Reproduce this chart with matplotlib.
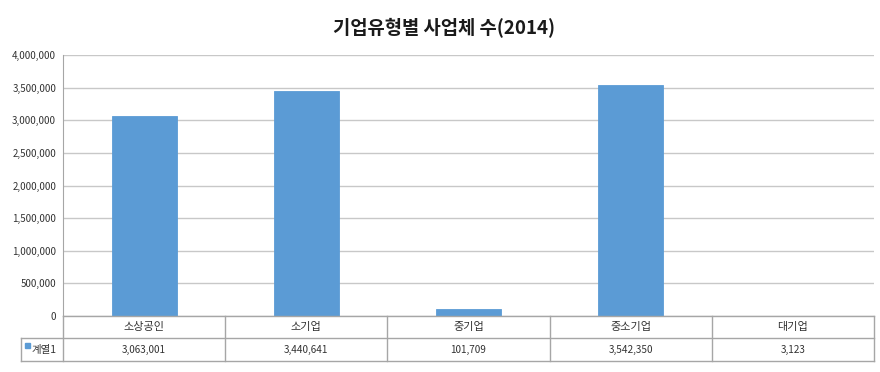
import numpy as np
import matplotlib.pyplot as plt
from matplotlib.ticker import FuncFormatter

plt.rcParams['font.family'] = ['Noto Sans CJK KR', 'DejaVu Sans']

# 데이터
categories = ['소상공인', '소기업', '중기업', '중소기업', '대기업']
values = [3063001, 3440641, 101709, 3542350, 3123]
series_name = '계열1'
title = '기업유형별 사업체 수(2014)'

bar_color = '#5B9BD5'
grid_color = '#c8c8c8'
line_color = '#a6a6a6'
text_color = '#333333'

W, H = 880, 372
fig = plt.figure(figsize=(W / 100, H / 100), dpi=100)

# 플롯 영역 (픽셀 기준)
x0, x1 = 63, 874
y_top, y_zero = 55, 316
ax = fig.add_axes([x0 / W, 1 - y_zero / H, (x1 - x0) / W, (y_zero - y_top) / H])

x = np.arange(len(categories))
ax.bar(x, values, width=0.4, color=bar_color, edgecolor=bar_color, linewidth=0.6, zorder=3)
ax.set_xlim(-0.5, len(categories) - 0.5)
ax.set_ylim(0, 4000000)
ax.set_yticks(np.arange(0, 4000001, 500000))
ax.yaxis.set_major_formatter(FuncFormatter(lambda v, p: f'{int(v):,}'))
ax.tick_params(axis='y', labelsize=7, length=0, pad=5, colors=text_color)
ax.set_xticks([])
ax.grid(axis='y', color=grid_color, linewidth=1, zorder=0)
ax.axhline(4000000, color='#999999', linewidth=1.2, zorder=1)
for s in ['top', 'right', 'bottom']:
    ax.spines[s].set_visible(False)
ax.spines['left'].set_color(line_color)

fig.text(0.505, 1 - 28 / H, title, ha='center', va='center',
         fontsize=13.5, fontweight='bold', color='#1a1a1a')

# 데이터 표
tx0 = 21
r0, r1, r2 = 316, 338, 361
tab = fig.add_axes([0, 0, 1, 1], facecolor='none')
tab.set_xlim(0, W)
tab.set_ylim(H, 0)
tab.axis('off')
cw = (x1 - x0) / len(categories)
# 가로선
tab.plot([x0, x1], [r0, r0], color=line_color, lw=1)
tab.plot([tx0, x1], [r1, r1], color=line_color, lw=1)
tab.plot([tx0, x1], [r2, r2], color=line_color, lw=1)
# 세로선
tab.plot([tx0, tx0], [r1, r2], color=line_color, lw=1)
for i in range(len(categories) + 1):
    tab.plot([x0 + i * cw] * 2, [r0, r2], color=line_color, lw=1)
for i, (c, v) in enumerate(zip(categories, values)):
    cx = x0 + (i + 0.5) * cw
    tab.text(cx, (r0 + r1) / 2, c, ha='center', va='center', fontsize=8, color=text_color)
    tab.text(cx, (r1 + r2) / 2, f'{v:,}', ha='center', va='center', fontsize=7.2, color=text_color)
tab.add_patch(plt.Rectangle((25, 343), 5, 5, color=bar_color))
tab.text(32, (r1 + r2) / 2, series_name, ha='left', va='center', fontsize=7.5, color=text_color)

fig.savefig('out.png', dpi=100)
